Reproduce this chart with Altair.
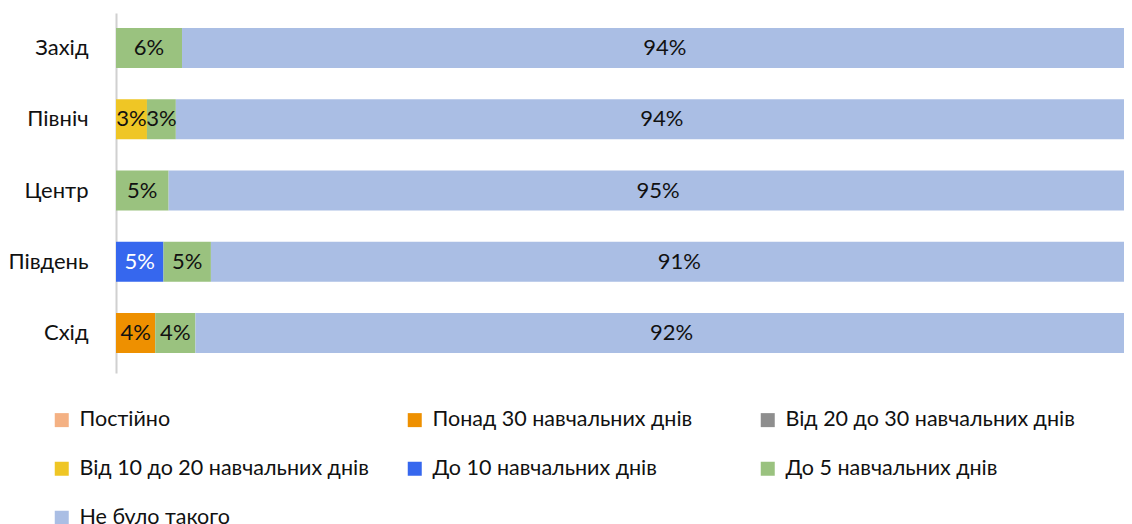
import altair as alt
import pandas as pd

regions = ["Захід", "Північ", "Центр", "Південь", "Схід"]
series = [
    "Постійно",
    "Понад 30 навчальних днів",
    "Від 20 до 30 навчальних днів",
    "Від 10 до 20 навчальних днів",
    "До 10 навчальних днів",
    "До 5 навчальних днів",
    "Не було такого",
]
colors = ["#F4B183", "#EE9000", "#8E8E8E", "#EFC625", "#3667EE", "#9AC27F", "#AABEE4"]

postiyno = [0, 0, 0, 0, 0]
ponad30 = [0, 0, 0, 0, 3.8]
vid20_30 = [0, 0, 0, 0, 0]
vid10_20 = [0, 3.0, 0, 0, 0]
do10 = [0, 0, 0, 4.6, 0]
do5 = [6.4, 2.8, 5.1, 4.6, 3.9]
ne_bulo = [93.6, 94.2, 94.9, 90.8, 92.3]

values = [postiyno, ponad30, vid20_30, vid10_20, do10, do5, ne_bulo]
rows = []
for si, (s, vals) in enumerate(zip(series, values)):
    for r, v in zip(regions, vals):
        rows.append({
            "region": r,
            "series": s,
            "order": si,
            "value": v,
            "txtcol": "#FFFFFF" if s == "До 10 навчальних днів" else "#111111",
        })
df = pd.DataFrame(rows)

FONT = "Lato"

base = alt.Chart(df).transform_stack(
    stack="value", groupby=["region"], as_=["v0", "v1"], sort=[alt.SortField("order")]
).transform_calculate(
    mid="(datum.v0 + datum.v1) / 2",
    label="format(datum.value, '.0f') + '%'",
)

yscale = alt.Scale(paddingInner=0.4386, paddingOuter=0.2456, align=0.43)
yenc = alt.Y(
    "region:N",
    sort=regions,
    title=None,
    scale=yscale,
    axis=alt.Axis(
        domainColor="#D0D0D0", domainWidth=2, ticks=False,
        labelFontSize=22, labelPadding=28, labelColor="#111111", labelFont=FONT,
    ),
)
xscale = alt.Scale(domain=[0, 97.7], nice=False, zero=True)

bars = base.mark_bar(clip=True).encode(
    y=yenc,
    x=alt.X("v0:Q", scale=xscale, axis=None),
    x2="v1:Q",
    color=alt.Color(
        "series:N",
        scale=alt.Scale(domain=series, range=colors),
        sort=series,
        legend=alt.Legend(
            title=None, orient="none", legendX=-65, legendY=396,
            columns=3, direction="horizontal", symbolType="square",
            symbolSize=196, symbolStrokeWidth=0, symbolOpacity=1,
            labelFontSize=21.5, labelFont=FONT, labelColor="#111111",
            labelOffset=7, labelLimit=500, rowPadding=26, columnPadding=35,
            gridAlign="all", padding=0,
        ),
    ),
)

texts = base.transform_filter("datum.value > 0").mark_text(
    fontSize=22, font=FONT, baseline="middle", align="center"
).encode(
    y=alt.Y("region:N", sort=regions),
    x=alt.X("mid:Q", scale=xscale),
    text="label:N",
    color=alt.Color("txtcol:N", scale=None, legend=None),
)

chart = alt.layer(bars, texts).properties(
    width=1008,
    height=360,
    autosize=alt.AutoSizeParams(type="none"),
    padding={"left": 108, "top": 5, "right": 0, "bottom": 151},
).configure_view(stroke=None).resolve_scale(color="independent")

chart.save("out.html", embed_options={"renderer": "svg", "actions": False})
